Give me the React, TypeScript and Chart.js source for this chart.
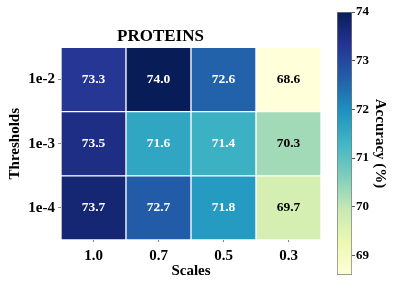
import React, { useEffect, useRef } from "react";
import { Chart, registerables } from "chart.js";

Chart.register(...registerables);

const scales = ["1.0", "0.7", "0.5", "0.3"];
const thresholds = ["1e-4", "1e-3", "1e-2"]; // bottom to top
const acc_1e4 = [73.7, 72.7, 71.8, 69.7];
const acc_1e3 = [73.5, 71.6, 71.4, 70.3];
const acc_1e2 = [73.3, 74.0, 72.6, 68.6];
const rows = [acc_1e4, acc_1e3, acc_1e2];
const colorbarTicks = [69, 70, 71, 72, 73, 74];
const vmin = 68.6;
const vmax = 74.0;

const YLGNBU = ["#ffffd9", "#edf8b1", "#c7e9b4", "#7fcdbb", "#41b6c4", "#1d91c0", "#225ea8", "#253494", "#081d58"];

function hexToRgb(h: string) {
  const n = parseInt(h.slice(1), 16);
  return [(n >> 16) & 255, (n >> 8) & 255, n & 255];
}
function cmap(t: number) {
  t = Math.max(0, Math.min(1, t));
  const p = t * (YLGNBU.length - 1);
  const i = Math.min(Math.floor(p), YLGNBU.length - 2);
  const f = p - i;
  const a = hexToRgb(YLGNBU[i]);
  const b = hexToRgb(YLGNBU[i + 1]);
  const c = a.map((v, k) => Math.round(v + (b[k] - v) * f));
  return `rgb(${c[0]},${c[1]},${c[2]})`;
}
function norm(v: number) {
  return (v - vmin) / (vmax - vmin);
}

const FONT = "'Liberation Serif', 'Times New Roman', serif";

const cellLabels = {
  id: "cellLabels",
  afterDatasetsDraw(chart: any) {
    const ctx = chart.ctx;
    ctx.save();
    ctx.font = `bold 13.5px ${FONT}`;
    ctx.textAlign = "center";
    ctx.textBaseline = "middle";
    rows.forEach((row, di) => {
      const meta = chart.getDatasetMeta(di);
      meta.data.forEach((el: any, j: number) => {
        const v = row[j];
        ctx.fillStyle = norm(v) < 0.4 ? "#000" : "#fff";
        ctx.fillText(v.toFixed(1), el.x, (el.y + el.base) / 2);
      });
    });
    ctx.restore();
  },
};

export default function App() {
  const mainRef = useRef<HTMLCanvasElement>(null);
  const barRef = useRef<HTMLCanvasElement>(null);

  useEffect(() => {
    const main = new Chart(mainRef.current!, {
      type: "bar",
      data: {
        labels: scales,
        datasets: rows.map((row, i) => ({
          label: thresholds[i],
          data: row.map(() => 1),
          backgroundColor: row.map((v) => cmap(norm(v))),
          borderColor: "#ffffff",
          borderWidth: 1,
          borderSkipped: false,
          barPercentage: 1,
          categoryPercentage: 1,
        })),
      },
      options: {
        responsive: false,
        animation: false,
        layout: { padding: { left: 0, right: 78, top: 0, bottom: 0 } },
        plugins: {
          legend: { display: false },
          tooltip: { enabled: false },
          title: {
            display: true,
            text: "PROTEINS",
            color: "#000",
            font: { family: FONT, size: 17, weight: "bold" },
            padding: { top: 26, bottom: 1 },
          },
        },
        scales: {
          x: {
            stacked: true,
            grid: { drawOnChartArea: false, drawTicks: true, tickLength: 2, offset: false, color: "#888" },
            border: { display: false },
            ticks: { color: "#000", font: { family: FONT, size: 15, weight: "bold" }, padding: 5, maxRotation: 0 },
            title: {
              display: true,
              text: "Scales",
              color: "#000",
              font: { family: FONT, size: 15, weight: "bold" },
              padding: { top: 0, bottom: 19 },
            },
            afterFit: (s: any) => {
              s.height = 59;
            },
          },
          y: {
            stacked: true,
            min: 0,
            max: 3,
            grid: { drawOnChartArea: false, drawTicks: true, tickLength: 3, color: "#888" },
            border: { display: false },
            afterBuildTicks: (s: any) => {
              s.ticks = thresholds.map((_, i) => ({ value: i + 0.5 }));
            },
            ticks: {
              color: "#000",
              font: { family: FONT, size: 15, weight: "bold" },
              padding: 3,
              callback: (v: any) => thresholds[Math.floor(Number(v))],
            },
            title: {
              display: true,
              text: "Thresholds",
              color: "#000",
              font: { family: FONT, size: 15, weight: "bold" },
              padding: { top: 6, bottom: 0 },
            },
            afterFit: (s: any) => {
              s.width = 61;
            },
          },
        },
      } as any,
      plugins: [cellLabels],
    });

    const bar = new Chart(barRef.current!, {
      type: "bar",
      data: {
        labels: ["cb"],
        datasets: [
          {
            data: [[vmin, vmax]] as any,
            backgroundColor: (c: any) => {
              const area = c.chart.chartArea;
              if (!area) return "#ccc";
              const g = c.chart.ctx.createLinearGradient(0, area.bottom, 0, area.top);
              for (let k = 0; k <= 40; k++) g.addColorStop(k / 40, cmap(k / 40));
              return g;
            },
            borderColor: "#7a7a7a",
            borderWidth: 1,
            borderSkipped: false,
            barPercentage: 1,
            categoryPercentage: 1,
          },
        ],
      },
      options: {
        responsive: false,
        animation: false,
        layout: { padding: { left: 337, right: 0, top: 12, bottom: 24 } },
        plugins: { legend: { display: false }, tooltip: { enabled: false } },
        scales: {
          x: { display: false },
          y: {
            position: "right",
            min: vmin,
            max: vmax,
            afterBuildTicks: (s: any) => {
              s.ticks = colorbarTicks.map((v) => ({ value: v }));
            },
            grid: { drawOnChartArea: false, drawTicks: true, tickLength: 3, color: "#555" },
            border: { display: false },
            ticks: { color: "#000", font: { family: FONT, size: 13, weight: "bold" }, padding: 1 },
            title: {
              display: true,
              text: "Accuracy (%)",
              color: "#000",
              font: { family: FONT, size: 15, weight: "bold" },
              padding: { top: 10, bottom: 0 },
            },
            afterFit: (s: any) => {
              s.width = 47;
            },
          },
        },
      } as any,
    });

    return () => {
      main.destroy();
      bar.destroy();
    };
  }, []);

  return (
    <div style={{ position: "absolute", left: 0, top: 0, width: 399, height: 299, background: "#fff" }}>
      <canvas ref={mainRef} width={399} height={299} style={{ position: "absolute", left: 0, top: 0 }} />
      <canvas ref={barRef} width={399} height={299} style={{ position: "absolute", left: 0, top: 0 }} />
    </div>
  );
}
